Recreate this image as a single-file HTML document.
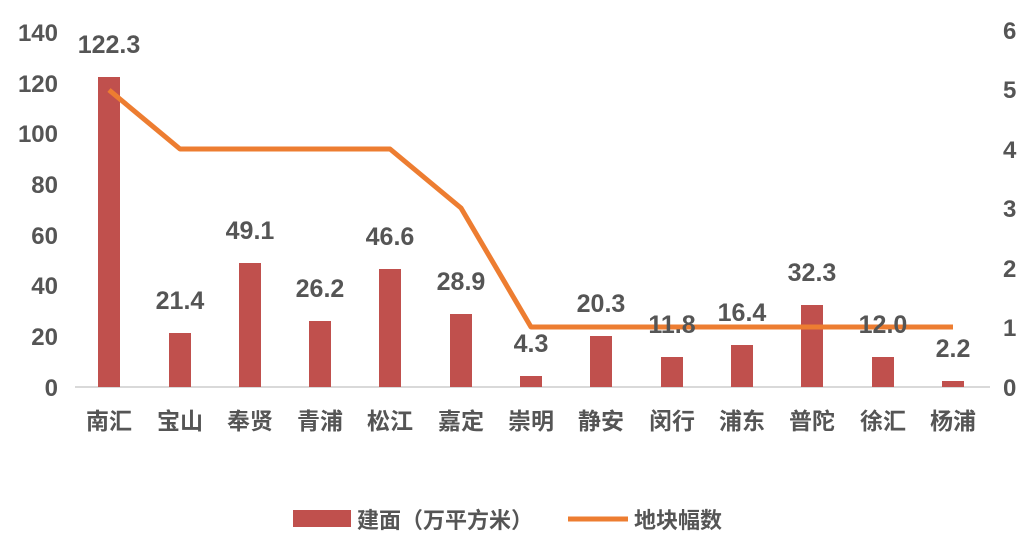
<!DOCTYPE html>
<html><head><meta charset="utf-8"><style>
body{margin:0;background:#fff}
text{font-family:"Liberation Sans Narrow","Liberation Sans","Noto Sans CJK SC",sans-serif;font-weight:bold;fill:#555}
</style></head><body>
<svg width="1036" height="554" xmlns="http://www.w3.org/2000/svg">
<line x1="75" y1="387" x2="990" y2="387" stroke="#d9d9d9" stroke-width="2"/>
<g font-size="24" text-anchor="end">
<text x="58" y="396">0</text><text x="58" y="345">20</text><text x="58" y="294">40</text><text x="58" y="244">60</text><text x="58" y="193">80</text><text x="58" y="142">100</text><text x="58" y="92">120</text><text x="58" y="41">140</text>
</g>
<g font-size="24" text-anchor="start">
<text x="1003" y="396">0</text><text x="1003" y="336">1</text><text x="1003" y="277">2</text><text x="1003" y="217">3</text><text x="1003" y="158">4</text><text x="1003" y="98">5</text><text x="1003" y="39">6</text>
</g>
<g fill="#c0504d">
<rect x="98" y="77" width="22" height="310"/>
<rect x="169" y="333" width="22" height="54"/>
<rect x="239" y="263" width="22" height="124"/>
<rect x="309" y="321" width="22" height="66"/>
<rect x="379" y="269" width="22" height="118"/>
<rect x="450" y="314" width="22" height="73"/>
<rect x="520" y="376" width="22" height="11"/>
<rect x="590" y="336" width="22" height="51"/>
<rect x="661" y="357" width="22" height="30"/>
<rect x="731" y="345" width="22" height="42"/>
<rect x="801" y="305" width="22" height="82"/>
<rect x="872" y="357" width="22" height="30"/>
<rect x="942" y="381" width="22" height="6"/>
</g>
<polyline fill="none" stroke="#ed7d31" stroke-width="5" stroke-linejoin="round" points="109,90 180,149 250,149 320,149 390,149 461,208 531,327 601,327 672,327 742,327 812,327 883,327 953,327"/>
<g font-size="25" text-anchor="middle">
<text x="109" y="53">122.3</text><text x="180" y="309">21.4</text><text x="250" y="239">49.1</text><text x="320" y="297">26.2</text><text x="390" y="245">46.6</text><text x="461" y="290">28.9</text><text x="531" y="352">4.3</text><text x="601" y="312">20.3</text><text x="672" y="333">11.8</text><text x="742" y="321">16.4</text><text x="812" y="281">32.3</text><text x="883" y="333">12.0</text><text x="953" y="357">2.2</text>
</g>
<g font-size="23" text-anchor="middle">
<text x="109" y="429">南汇</text><text x="180" y="429">宝山</text><text x="250" y="429">奉贤</text><text x="320" y="429">青浦</text><text x="390" y="429">松江</text><text x="461" y="429">嘉定</text><text x="531" y="429">崇明</text><text x="601" y="429">静安</text><text x="672" y="429">闵行</text><text x="742" y="429">浦东</text><text x="812" y="429">普陀</text><text x="883" y="429">徐汇</text><text x="953" y="429">杨浦</text>
</g>
<rect x="293" y="510" width="58" height="17" fill="#c0504d"/>
<text x="357" y="528" font-size="22">建面（万平方米）</text>
<line x1="568" y1="519" x2="628" y2="519" stroke="#ed7d31" stroke-width="5"/>
<text x="634" y="528" font-size="22">地块幅数</text>
</svg>
</body></html>
